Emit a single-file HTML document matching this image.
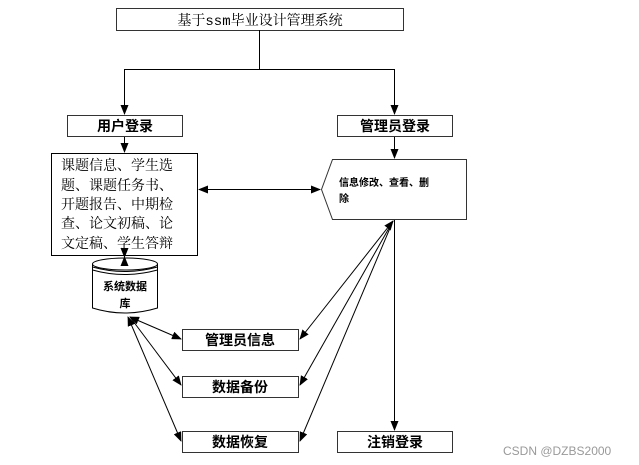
<!DOCTYPE html>
<html><head><meta charset="utf-8"><style>
body{margin:0;background:#fff;}
svg{display:block;font-family:"Liberation Sans","Noto Sans CJK SC",sans-serif;}
</style></head><body>
<svg width="639" height="465" viewBox="0 0 639 465" xmlns="http://www.w3.org/2000/svg">
<defs>
<marker id="a" markerWidth="10" markerHeight="8" refX="9" refY="4" orient="auto-start-reverse" markerUnits="userSpaceOnUse"><path d="M0,0 L10,4 L0,8 z" fill="#000"/></marker>
</defs>
<g fill="none" stroke="#000" stroke-width="1">
<rect x="116.5" y="8.5" width="287" height="22" stroke="#333"/>
<path d="M259.5 30 V69.5 M124.5 69.5 H394.5"/>
<path d="M124.5 69 V114" marker-end="url(#a)"/>
<path d="M394.5 69 V114" marker-end="url(#a)"/>
<rect x="67.5" y="115.5" width="115" height="21" stroke="#333"/>
<rect x="337.5" y="115.5" width="115" height="21" stroke="#333"/>
<path d="M124.5 137 V152" marker-end="url(#a)"/>
<path d="M394.5 137 V158" marker-end="url(#a)"/>
<rect x="51.5" y="153.5" width="146" height="102"/>
<path d="M332.5 159.5 H466.5 V219.5 H332.5 L321.5 189.5 Z" stroke="#333"/>
<path d="M199 189.5 H320" marker-start="url(#a)" marker-end="url(#a)"/>
<path d="M92.5 264 V308 Q124.5 318 157.5 308 V264"/>
<ellipse cx="125" cy="264" rx="32.5" ry="6" fill="#fff"/>
<path d="M92.5 267 Q124.5 276 157.5 267 M92.5 270 Q124.5 279 157.5 270"/>
<path d="M124.5 250 V257" marker-end="url(#a)"/>
<path d="M124.5 266 V257" marker-end="url(#a)"/>
<path d="M394.5 220 V430" marker-end="url(#a)"/>
<path d="M393 221 L300 339" marker-start="url(#a)" marker-end="url(#a)"/>
<path d="M393 221 L300 385" marker-end="url(#a)"/>
<path d="M393 221 L300 441" marker-end="url(#a)"/>
<path d="M130 317 L181 339" marker-start="url(#a)" marker-end="url(#a)"/>
<path d="M130 317 L181 385" marker-end="url(#a)"/>
<path d="M128 317 L181 441" marker-start="url(#a)" marker-end="url(#a)"/>
<rect x="182.5" y="329.5" width="116" height="21" stroke="#333"/>
<rect x="182.5" y="376.5" width="116" height="21" stroke="#333"/>
<rect x="182.5" y="431.5" width="116" height="21" stroke="#333"/>
<rect x="337.5" y="431.5" width="115" height="21" stroke="#333"/>
</g>
<g fill="#000" text-anchor="middle">
<text x="260" y="25" font-size="14" font-family="Liberation Mono,Noto Serif CJK SC,serif">基于ssm毕业设计管理系统</text>
<text x="125" y="131" font-size="14" font-weight="bold">用户登录</text>
<text x="395" y="131" font-size="14" font-weight="bold">管理员登录</text>
<text x="240" y="345" font-size="14" font-weight="bold">管理员信息</text>
<text x="240" y="392" font-size="14" font-weight="bold">数据备份</text>
<text x="240" y="447" font-size="14" font-weight="bold">数据恢复</text>
<text x="395" y="447" font-size="14" font-weight="bold">注销登录</text>
<text x="125" y="290" font-size="11" font-weight="bold">系统数据</text>
<text x="125" y="307" font-size="11" font-weight="bold">库</text>
</g>
<g fill="#000" font-size="14" font-family="Liberation Serif,Noto Serif CJK SC,serif">
<text x="61" y="170">课题信息、学生选</text>
<text x="61" y="190">题、课题任务书、</text>
<text x="61" y="209">开题报告、中期检</text>
<text x="61" y="228">查、论文初稿、论</text>
<text x="61" y="248">文定稿、学生答辩</text>
</g>
<g fill="#000">
<text x="339" y="186" font-size="10" font-weight="bold">信息修改、查看、删</text>
<text x="339" y="202" font-size="10" font-weight="bold">除</text>
</g>
<text x="503" y="455" font-size="12" fill="#999">CSDN @DZBS2000</text>
</svg>
</body></html>
